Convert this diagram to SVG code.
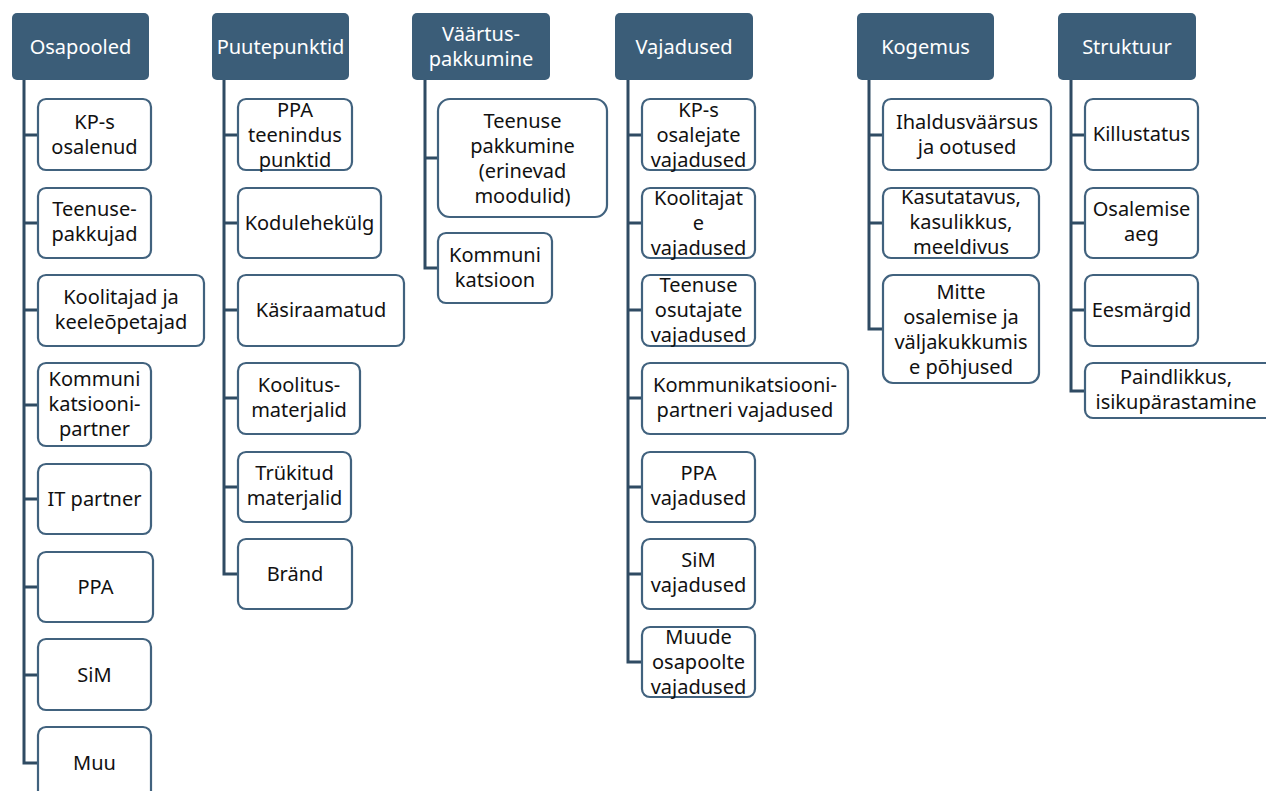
<svg xmlns="http://www.w3.org/2000/svg" width="1266" height="791" viewBox="0 0 1266 791">
<style>
.h rect{fill:#3b5d78;}
.h text{fill:#ffffff;font-family:"Noto Sans","Liberation Sans",sans-serif;font-size:20px;text-anchor:middle;}
.c rect{fill:#ffffff;stroke:#41627e;stroke-width:2.2;}
.c text{fill:#111111;font-family:"Noto Sans","Liberation Sans",sans-serif;font-size:20px;text-anchor:middle;}
#connectors path{fill:none;stroke:#2f4b63;stroke-width:3;}
</style>
<rect width="1266" height="791" fill="#ffffff"/>
<g id="connectors">
<path d="M24 80V763H38M24 135H38M24 223H38M24 310H38M24 405H38M24 499H38M24 587H38M24 675H38"/>
<path d="M224 80V574H238M224 135H238M224 223H238M224 310H238M224 398H238M224 487H238"/>
<path d="M425 80V268H438M425 158H438"/>
<path d="M628 80V662H642M628 135H642M628 223H642M628 310H642M628 398H642M628 487H642M628 574H642"/>
<path d="M869 80V329H883M869 135H883M869 223H883"/>
<path d="M1071 80V391H1085M1071 135H1085M1071 223H1085M1071 310H1085"/>
</g>
<g id="h-osapooled" class="h"><rect x="12" y="13" width="137" height="67" rx="5"/><text x="80.5" y="53.5">Osapooled</text></g>
<g id="h-puutepunktid" class="h"><rect x="212" y="13" width="137" height="67" rx="5"/><text x="280.5" y="53.5">Puutepunktid</text></g>
<g id="h-vaartus" class="h"><rect x="412" y="13" width="138" height="67" rx="5"/><text x="481" y="41">Väärtus-</text><text x="481" y="66">pakkumine</text></g>
<g id="h-vajadused" class="h"><rect x="615" y="13" width="138" height="67" rx="5"/><text x="684" y="53.5">Vajadused</text></g>
<g id="h-kogemus" class="h"><rect x="857" y="13" width="137" height="67" rx="5"/><text x="925.5" y="53.5">Kogemus</text></g>
<g id="h-struktuur" class="h"><rect x="1058" y="13" width="138" height="67" rx="5"/><text x="1127" y="53.5">Struktuur</text></g>

<g id="o1" class="c"><rect x="38" y="99" width="113" height="71" rx="8"/><text x="94.5" y="129">KP-s</text><text x="94.5" y="154">osalenud</text></g>
<g id="o2" class="c"><rect x="38" y="188" width="113" height="70" rx="8"/><text x="94.5" y="216">Teenuse-</text><text x="94.5" y="241">pakkujad</text></g>
<g id="o3" class="c"><rect x="38" y="275" width="166" height="71" rx="8"/><text x="121" y="304">Koolitajad ja</text><text x="121" y="329">keeleõpetajad</text></g>
<g id="o4" class="c"><rect x="38" y="363" width="113" height="83" rx="8"/><text x="94.5" y="386">Kommuni</text><text x="94.5" y="411">katsiooni-</text><text x="94.5" y="436">partner</text></g>
<g id="o5" class="c"><rect x="38" y="464" width="113" height="70" rx="8"/><text x="94.5" y="506">IT partner</text></g>
<g id="o6" class="c"><rect x="38" y="552" width="115" height="70" rx="8"/><text x="95.5" y="594">PPA</text></g>
<g id="o7" class="c"><rect x="38" y="639" width="113" height="71" rx="8"/><text x="94.5" y="682">SiM</text></g>
<g id="o8" class="c"><rect x="38" y="727" width="113" height="72" rx="8"/><text x="94.5" y="770">Muu</text></g>

<g id="p1" class="c"><rect x="238" y="99" width="114" height="71" rx="8"/><text x="295" y="117">PPA</text><text x="295" y="142">teenindus</text><text x="295" y="167">punktid</text></g>
<g id="p2" class="c"><rect x="238" y="188" width="143" height="70" rx="8"/><text x="309.5" y="230">Kodulehekülg</text></g>
<g id="p3" class="c"><rect x="238" y="275" width="166" height="71" rx="8"/><text x="321" y="317">Käsiraamatud</text></g>
<g id="p4" class="c"><rect x="238" y="363" width="122" height="71" rx="8"/><text x="299" y="392">Koolitus-</text><text x="299" y="417">materjalid</text></g>
<g id="p5" class="c"><rect x="238" y="452" width="113" height="70" rx="8"/><text x="294.5" y="480">Trükitud</text><text x="294.5" y="505">materjalid</text></g>
<g id="p6" class="c"><rect x="238" y="539" width="114" height="70" rx="8"/><text x="295" y="581">Bränd</text></g>

<g id="v1" class="c"><rect x="438" y="99" width="169" height="118" rx="12"/><text x="522.5" y="128">Teenuse</text><text x="522.5" y="153">pakkumine</text><text x="522.5" y="178">(erinevad</text><text x="522.5" y="203">moodulid)</text></g>
<g id="v2" class="c"><rect x="438" y="233" width="114" height="70" rx="8"/><text x="495" y="262">Kommuni</text><text x="495" y="287">katsioon</text></g>

<g id="n1" class="c"><rect x="642" y="99" width="113" height="71" rx="8"/><text x="698.5" y="117">KP-s</text><text x="698.5" y="142">osalejate</text><text x="698.5" y="167">vajadused</text></g>
<g id="n2" class="c"><rect x="642" y="188" width="113" height="70" rx="8"/><text x="698.5" y="205">Koolitajat</text><text x="698.5" y="230">e</text><text x="698.5" y="255">vajadused</text></g>
<g id="n3" class="c"><rect x="642" y="275" width="113" height="71" rx="8"/><text x="698.5" y="292">Teenuse</text><text x="698.5" y="317">osutajate</text><text x="698.5" y="342">vajadused</text></g>
<g id="n4" class="c"><rect x="642" y="363" width="206" height="71" rx="8"/><text x="745" y="392">Kommunikatsiooni-</text><text x="745" y="417">partneri vajadused</text></g>
<g id="n5" class="c"><rect x="642" y="452" width="113" height="70" rx="8"/><text x="698.5" y="480">PPA</text><text x="698.5" y="505">vajadused</text></g>
<g id="n6" class="c"><rect x="642" y="539" width="113" height="70" rx="8"/><text x="698.5" y="567">SiM</text><text x="698.5" y="592">vajadused</text></g>
<g id="n7" class="c"><rect x="642" y="627" width="113" height="70" rx="8"/><text x="698.5" y="644">Muude</text><text x="698.5" y="669">osapoolte</text><text x="698.5" y="694">vajadused</text></g>

<g id="k1" class="c"><rect x="883" y="99" width="168" height="71" rx="8"/><text x="967" y="129">Ihaldusväärsus</text><text x="967" y="154">ja ootused</text></g>
<g id="k2" class="c"><rect x="883" y="188" width="156" height="70" rx="8"/><text x="961" y="204">Kasutatavus,</text><text x="961" y="229">kasulikkus,</text><text x="961" y="254">meeldivus</text></g>
<g id="k3" class="c"><rect x="883" y="275" width="156" height="108" rx="10"/><text x="961" y="298.5">Mitte</text><text x="961" y="323.5">osalemise ja</text><text x="961" y="348.5">väljakukkumis</text><text x="961" y="373.5">e põhjused</text></g>

<g id="s1" class="c"><rect x="1085" y="99" width="113" height="71" rx="8"/><text x="1141.5" y="141">Killustatus</text></g>
<g id="s2" class="c"><rect x="1085" y="188" width="113" height="70" rx="8"/><text x="1141.5" y="216">Osalemise</text><text x="1141.5" y="241">aeg</text></g>
<g id="s3" class="c"><rect x="1085" y="275" width="113" height="71" rx="8"/><text x="1141.5" y="317">Eesmärgid</text></g>
<g id="s4" class="c"><rect x="1085" y="363" width="190" height="55" rx="8"/><text x="1176" y="384">Paindlikkus,</text><text x="1176" y="409">isikupärastamine</text></g>
</svg>
